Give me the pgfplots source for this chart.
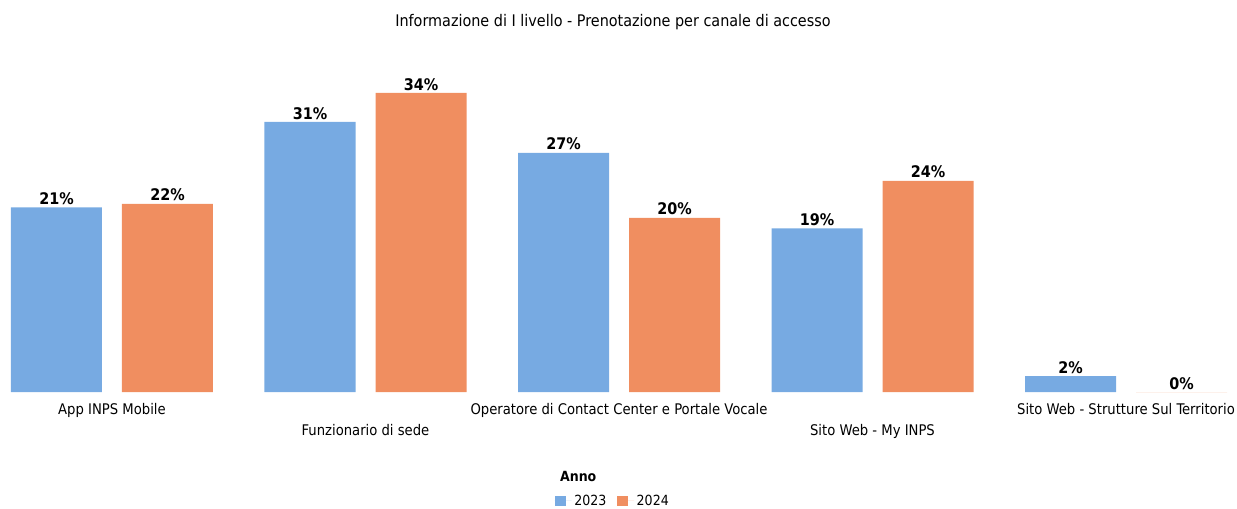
\documentclass[border=0pt]{standalone}
\usepackage{pgfplots}
\pgfplotsset{compat=1.18}
\usepackage{fontspec}
\setmainfont{DejaVu Sans Condensed}
\definecolor{cblue}{HTML}{77AAE2}
\definecolor{corange}{HTML}{F08E60}
\begin{document}
\begin{tikzpicture}
\begin{axis}[
  at={(0,0)}, anchor=south west,
  scale only axis,
  width=927.75pt, height=263.85pt,
  xmin=-0.4418, xmax=4.4379,
  ymin=0, ymax=40,
  ybar=15pt, bar width=68.25pt,
  axis line style={draw=none},
  tick style={draw=none},
  ytick=\empty,
  xtick={0,2,4},
  xticklabels={App INPS Mobile, Operatore di Contact Center e Portale Vocale, Sito Web - Strutture Sul Territorio},
  extra x ticks={1,3},
  extra x tick labels={Funzionario di sede, Sito Web - My INPS},
  extra x tick style={tick label style={yshift=-15.75pt}},
  x tick label style={font=\fontsize{11}{12}\selectfont, yshift=-0.5pt},
  nodes near coords,
  point meta=explicit symbolic,
  every node near coord/.append style={font=\fontsize{12}{12}\selectfont\bfseries, yshift=-1.5pt},
  legend columns=2,
  legend style={draw=none, at={(axis description cs:0.4956,-0.3098)}, anchor=center,
    font=\fontsize{10.5}{11}\selectfont,
    /tikz/every even column/.append style={column sep=6pt}},
  legend image code/.code={\fill[#1,draw=none] (0pt,-4.1pt) rectangle (8.25pt,4.1pt);
    \path (0pt,0pt) -- (12.75pt,0pt);},
]
\addplot[fill=cblue, draw=none] table[meta=lab] {
x y lab
0 21.0 21\%
1 30.7 31\%
2 27.2 27\%
3 18.6 19\%
4 1.8 2\%
};
\addplot[fill=corange, draw=none] table[meta=lab] {
x y lab
0 21.4 22\%
1 34.0 34\%
2 19.8 20\%
3 24.0 24\%
4 0.0 0\%
};
\legend{2023,2024}
\end{axis}
\node[font=\fontsize{12}{12}\selectfont] at (459.75pt,277.5pt) {Informazione di I livello - Prenotazione per canale di accesso};
\node[font=\fontsize{10.5}{11}\selectfont\bfseries, anchor=west] at (416.5pt,-63pt) {Anno};
\pgfresetboundingbox
\path[use as bounding box] (0,-87pt) rectangle (927.75pt,294pt);
\end{tikzpicture}
\end{document}
